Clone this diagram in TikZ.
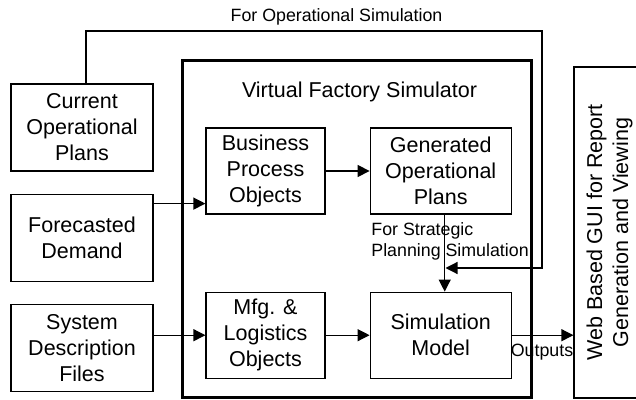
\documentclass[tikz,border=0pt]{standalone}
\usepackage{fontspec}
\setmainfont{Liberation Sans}
\usepackage{tikz}
\usetikzlibrary{positioning, arrows.meta}

\newcommand{\boxfont}{\fontsize{10.75pt}{13pt}\selectfont}
\newcommand{\lblfont}{\fontsize{8.9pt}{10.5pt}\selectfont}

\begin{document}
\begin{tikzpicture}[
  x=0.5pt, y=-0.5pt,
  font=\boxfont,
  src/.style={draw, line width=0.6pt, minimum width=71pt,
    minimum height=43.5pt, align=center, inner sep=1pt},
  obj/.style={src, minimum width=59.5pt, minimum height=43pt},
  gen/.style={src, minimum width=70.5pt, minimum height=43pt},
  vfsbox/.style={draw, line width=1.5pt, minimum width=174.5pt,
    minimum height=168pt},
  guibox/.style={draw, line width=0.6pt, minimum width=35.5pt,
    minimum height=165.5pt},
  lbl/.style={font=\lblfont, align=left, inner sep=0pt},
  arrow/.style={-{Triangle[length=6pt,width=6pt]}, line width=0.6pt},
]
  \useasboundingbox (0,0) rectangle (636,400);

  % inputs
  \node[src] (cur) at (82,127.5) {Current\\Operational\\Plans};
  \node[src, below=11pt of cur] (fore) {Forecasted\\Demand};
  \node[src, below=11pt of fore] (sysd) {System\\Description\\Files};

  % simulator
  \node[vfsbox] (vfs) at (356.5,229) {};
  \node[xshift=1.5pt, yshift=-16pt] (title) at (vfs.north) {Virtual Factory Simulator};
  \node[obj] (bpo) at (265.5,171) {Business\\Process\\Objects};
  \node[gen, right=22pt of bpo] (gop) {Generated\\Operational\\Plans};
  \node[obj, below=38.5pt of bpo] (mfg) {Mfg. \&\\Logistics\\Objects};
  \node[gen, below=38.5pt of gop] (sim) {Simulation\\Model};

  % output
  \node[guibox] (gui) at (609.5,232.5) {};
  \node[rotate=90, align=center] (guitxt) at (gui) {Web Based GUI for Report\\Generation and Viewing};

  \node[lbl] (oplbl) at (336.5,17) {For Operational Simulation};
  \node[lbl, anchor=west] (stratlbl) at (371,241.5) {For Strategic\\Planning Simulation};
  \node[lbl] (outlbl) at (542,352) {Outputs};

  \coordinate (forein) at ([yshift=-5pt]fore.north east);
  \coordinate (gopout) at ([xshift=2pt]gop.south);
  \coordinate (merge) at (gopout |- 0,268);
  \coordinate (fbturn) at (542,31);

  \draw[arrow] (forein) -- (forein -| bpo.west);
  \draw[arrow] (sysd.east |- mfg) -- (mfg);
  \draw[arrow] (bpo) -- (gop);
  \draw[arrow] (mfg) -- (sim);
  \draw[arrow] (gopout) -- (gopout |- sim.north);
  \draw[arrow] (sim) -- (sim -| gui.west);
  \draw[arrow] ([xshift=2pt]cur.north) |- (fbturn) |- ([xshift=0.4pt]merge);
\end{tikzpicture}
\end{document}
